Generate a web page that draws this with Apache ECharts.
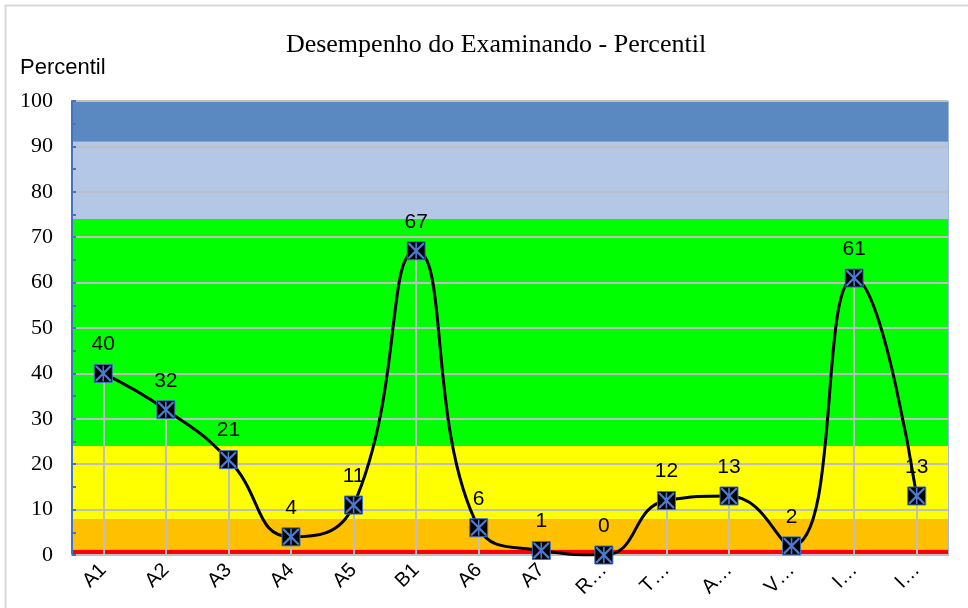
<!DOCTYPE html>
<html>
<head>
<meta charset="utf-8">
<script src="https://cdn.jsdelivr.net/npm/echarts@6/dist/echarts.min.js"></script>
<style>
  html, body { margin: 0; padding: 0; background: #fff; }
  #chart { width: 968px; height: 608px; }
</style>
</head>
<body>
<div id="chart"></div>
<script>
  // categorias e percentis
  var categories = ['A1', 'A2', 'A3', 'A4', 'A5', 'B1', 'A6', 'A7', 'R…', 'T…', 'A…', 'V…', 'I…', 'I…'];
  var percentis = [40, 32, 21, 4, 11, 67, 6, 1, 0, 12, 13, 2, 61, 13];
  // faixas de fundo (limites em percentil)
  var bandEdges = [0, 1.2, 8, 24, 74, 91, 100];
  var bandColors = ['#FF0000', '#FFC000', '#FFFF00', '#00FF00', '#B4C7E7', '#5A88C1'];

  var chart = echarts.init(document.getElementById('chart'));

  var bands = [];
  for (var i = 0; i < bandColors.length; i++) {
    bands.push([
      { yAxis: bandEdges[i], itemStyle: { color: bandColors[i] } },
      { yAxis: bandEdges[i + 1] }
    ]);
  }
  var drops = percentis.map(function (v, i) {
    return [{ coord: [i, 0] }, { coord: [i, v] }];
  });

  var option = {
    backgroundColor: '#fff',
    animation: false,
    title: {
      text: 'Desempenho do Examinando - Percentil',
      left: 491,
      top: 27,
      textAlign: 'center',
      textStyle: { fontFamily: 'Liberation Serif', fontSize: 26, fontWeight: 'normal', color: '#000' }
    },
    graphic: [
      {
        type: 'rect', silent: true, z: -10,
        shape: { x: 5.5, y: 5.5, width: 970, height: 620 },
        style: { fill: 'none', stroke: '#D9D9D9', lineWidth: 2 }
      },
      {
        type: 'text', left: 20, top: 57,
        style: { text: 'Percentil', fontFamily: 'Liberation Sans', fontSize: 22, fill: '#000' }
      }
    ],
    grid: {
      left: 72, right: 20, top: 101, bottom: 53,
      show: true, borderColor: '#4472C4', borderWidth: 1, backgroundColor: 'transparent'
    },
    xAxis: {
      type: 'category',
      data: categories,
      boundaryGap: true,
      z: 2,
      axisLine: { lineStyle: { color: '#BFBFBF', width: 2 } },
      axisTick: { show: false },
      splitLine: { show: false },
      axisLabel: {
        rotate: 45, margin: 12, interval: 0,
        fontFamily: 'Liberation Sans', fontSize: 20, color: '#000'
      }
    },
    yAxis: {
      type: 'value',
      min: 0, max: 100, interval: 10,
      z: 2,
      axisLine: { show: true, lineStyle: { color: '#4472C4', width: 2 } },
      axisTick: { show: true, inside: true, length: 4, lineStyle: { color: '#4472C4', width: 2 } },
      minorTick: { show: true, splitNumber: 2, length: 4, lineStyle: { color: '#4472C4', width: 2 } },
      splitLine: { show: true, lineStyle: { color: '#BFBFBF', width: 2 } },
      axisLabel: { margin: 19, fontFamily: 'Liberation Serif', fontSize: 22, color: '#000' }
    },
    series: [
      {
        // faixas de fundo
        type: 'line', data: [], z: 1, silent: true,
        markArea: { silent: true, data: bands }
      },
      {
        // linhas de queda
        type: 'line', data: [], z: 3, silent: true,
        markLine: {
          silent: true, symbol: 'none', label: { show: false },
          lineStyle: { color: '#BFBFBF', width: 2, type: 'solid' },
          data: drops
        }
      },
      {
        name: 'Percentil',
        type: 'line',
        data: percentis,
        z: 5,
        smooth: 0.5,
        lineStyle: { color: '#000', width: 3 },
        symbol: 'rect',
        symbolSize: 18,
        itemStyle: { color: '#000', borderColor: '#4472C4', borderWidth: 1 },
        label: {
          show: true, position: 'top', distance: 9,
          fontFamily: 'Liberation Sans', fontSize: 21, color: '#000'
        }
      },
      {
        // asterisco azul dentro do marcador
        type: 'line',
        data: percentis,
        z: 6,
        silent: true,
        lineStyle: { opacity: 0 },
        symbol: 'path://M0,0 L2,0 L9,7 L9,0 L11,0 L11,7 L18,0 L20,0 L20,2 L12,10 L20,18 L20,20 L18,20 L11,13 L11,20 L9,20 L9,13 L2,20 L0,20 L0,18 L8,10 L0,2 Z',
        symbolSize: 16,
        itemStyle: { color: '#4A7BD0' },
        label: { show: false }
      }
    ]
  };

  chart.setOption(option);
</script>
</body>
</html>
